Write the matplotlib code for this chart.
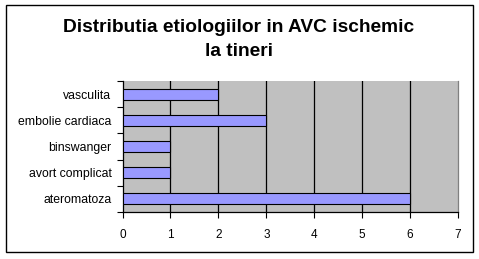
import matplotlib.pyplot as plt
from matplotlib.patches import Rectangle

# date
categorii = ['ateromatoza', 'avort complicat', 'binswanger', 'embolie cardiaca', 'vasculita']
valori = [6, 1, 1, 3, 2]
x_ticks = [0, 1, 2, 3, 4, 5, 6, 7]

W, H = 479, 259
fig = plt.figure(figsize=(W / 100, H / 100), dpi=100)
fig.patch.set_facecolor('white')

# chenar exterior
fig.add_artist(Rectangle((6 / W, 1 - 252 / H), 467 / W, 247 / H, transform=fig.transFigure,
                         fill=False, edgecolor='black', linewidth=1.0))

fig.text(239 / W, 1 - 27 / H, 'Distributia etiologiilor in AVC ischemic', ha='center', va='center',
         fontsize=13.8, fontweight='bold', family='Liberation Sans')
fig.text(239 / W, 1 - 51 / H, 'la tineri', ha='center', va='center',
         fontsize=13.8, fontweight='bold', family='Liberation Sans')

left, right, top, bottom = 122.5, 458, 81, 212
ax = fig.add_axes([left / W, 1 - bottom / H, (right - left) / W, (bottom - top) / H])
ax.set_facecolor('#C0C0C0')

y = list(range(len(categorii)))
ax.barh(y, valori, height=0.42, color='#9999FF', edgecolor='black', linewidth=0.8, zorder=3)

ax.set_xlim(0, 7)
ax.set_ylim(-0.5, len(categorii) - 0.5)
ax.set_xticks(x_ticks)
ax.set_xticklabels([str(v) for v in x_ticks], fontsize=8.5, family='Liberation Sans')
ax.set_yticks(y)
ax.set_yticklabels(categorii, fontsize=8.8, family='Liberation Sans')
ax.tick_params(axis='y', length=0, pad=8)
ax.set_yticks([i - 0.5 for i in range(len(categorii) + 1)], minor=True)
ax.tick_params(axis='y', which='minor', length=4, width=0.8, color='black')
ax.tick_params(axis='x', length=4, width=0.8, pad=8)

for xv in x_ticks[1:-1]:
    ax.axvline(xv, color='black', linewidth=0.9, zorder=2)

ax.spines['top'].set_visible(False)
ax.spines['right'].set_color('#808080')
ax.spines['left'].set_color('black')
ax.spines['bottom'].set_color('black')
for s in ax.spines.values():
    s.set_linewidth(0.9)

fig.savefig('out.png', dpi=100)
